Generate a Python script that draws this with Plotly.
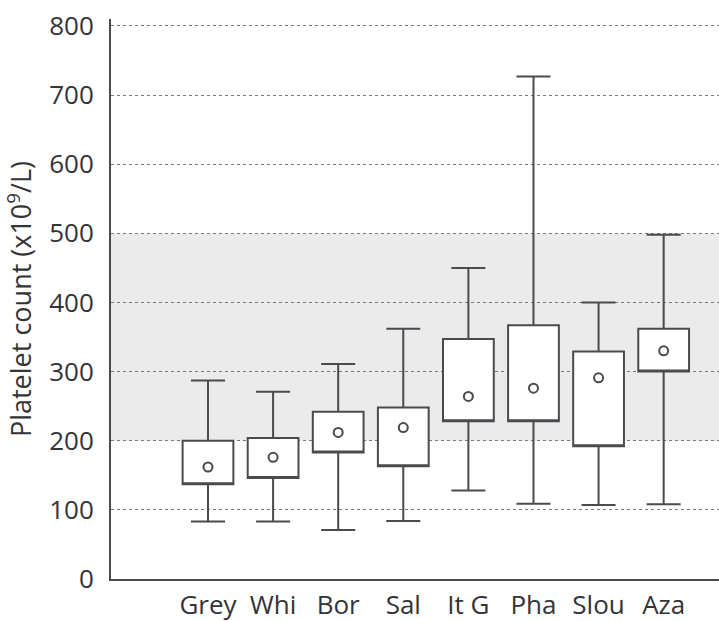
import plotly.graph_objects as go

categories = ["Grey", "Whi", "Bor", "Sal", "It G", "Pha", "Slou", "Aza"]
whisker_low = [83, 83, 71, 84, 128, 109, 107, 108]
q1_values = [137, 146, 183, 163, 228, 228, 192, 300]
q3_values = [200, 204, 242, 248, 347, 367, 329, 362]
whisker_high = [287, 271, 311, 362, 450, 727, 400, 498]
centre_values = [162, 176, 212, 219, 264, 276, 291, 330]
reference_low = 200
reference_high = 500
y_ticks = [0, 100, 200, 300, 400, 500, 600, 700, 800]

FONT = "Open Sans"
DARK = "#4a4a4f"

fig = go.Figure()
fig.add_trace(go.Box(
    x=categories,
    q1=q1_values,
    median=q1_values,
    q3=q3_values,
    lowerfence=whisker_low,
    upperfence=whisker_high,
    fillcolor="white",
    line=dict(color=DARK, width=2),
    width=0.78,
    whiskerwidth=0.67,
    boxpoints=False,
    showlegend=False,
    hoverinfo="skip",
))
fig.add_trace(go.Scatter(
    x=categories,
    y=centre_values,
    mode="markers",
    marker=dict(symbol="circle-open", size=9, color=DARK, line=dict(width=2, color=DARK)),
    showlegend=False,
    hoverinfo="skip",
))

fig.add_shape(type="rect", xref="paper", yref="y", x0=0, x1=1,
              y0=reference_low, y1=reference_high,
              fillcolor="#ebebeb", line=dict(width=0), layer="below")

fig.update_layout(
    width=719, height=621,
    margin=dict(l=111, r=0, t=19, b=42),
    paper_bgcolor="white", plot_bgcolor="white",
    font=dict(family=FONT, color="#333338", size=26),
    showlegend=False,
)
fig.update_xaxes(
    type="category",
    range=[-1.49, 7.85],
    showgrid=False,
    showline=True, linecolor=DARK, linewidth=2,
    ticks="", ticklabelstandoff=2,
    tickfont=dict(size=26, family=FONT),
    zeroline=False,
    automargin=False,
)
fig.update_yaxes(
    range=[0, 810],
    tickvals=y_ticks,
    showgrid=True, gridcolor="#7a7a7a", gridwidth=1, griddash="dot",
    showline=True, linecolor=DARK, linewidth=2,
    ticks="", ticklabelstandoff=10,
    tickfont=dict(size=26, family=FONT),
    zeroline=False,
    automargin=False,
    title=dict(text="Platelet count (x10<sup>9</sup>/L)", font=dict(size=27, family=FONT), standoff=12),
)

fig.write_html(
    "out.html",
    config={"displayModeBar": False},
    post_script="document.body.style.margin='0';document.body.style.overflow='hidden';",
)
